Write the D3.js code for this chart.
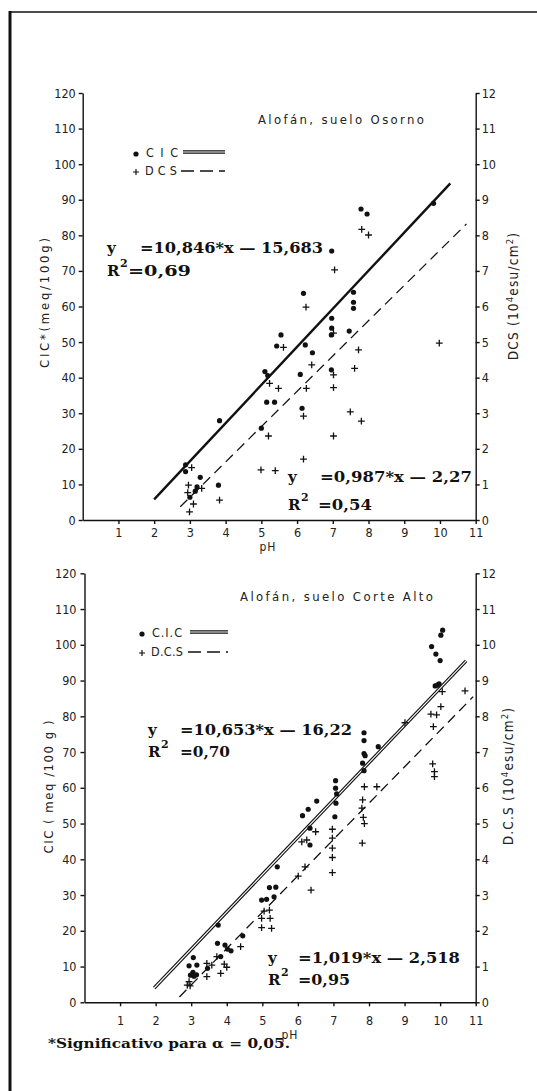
<!DOCTYPE html>
<html>
<head>
<meta charset="utf-8">
<script src="https://cdn.jsdelivr.net/npm/d3@7"></script>
<style>
body{margin:0;background:#fff}
svg{display:block}
</style>
</head>
<body>
<div class="chart"></div>
<script>
// tick labels
const phTicks = [1,2,3,4,5,6,7,8,9,10,11];
const cicTicks = [0,10,20,30,40,50,60,70,80,90,100,110,120];
const dcsTicks = [0,1,2,3,4,5,6,7,8,9,10,11,12];

// Osorno: [pH, CIC meq/100g]
const osornoCic = [[2.88,15.5],[2.88,13.6],[3.0,6.4],[3.15,8.1],[3.2,9.3],[3.29,12.0],[3.8,9.8],[3.83,27.9],
  [5.0,25.8],[5.1,41.7],[5.18,40.6],[5.15,33.1],[5.37,33.1],[5.43,48.9],[5.55,52.0],[6.09,40.9],[6.14,31.4],
  [6.18,63.7],[6.23,49.2],[6.43,47.0],[6.96,52.0],[6.96,42.2],[6.97,56.7],[6.97,53.9],[6.97,75.6],[7.46,53.1],
  [7.58,64.0],[7.58,61.2],[7.58,59.5],[7.79,87.4],[7.96,86.0],[9.82,89.0]];
// Osorno: [pH, DCS 10^4 esu/cm2]
const osornoDcs = [[2.94,0.77],[2.96,0.98],[2.99,0.23],[3.05,1.47],[3.1,0.45],[3.33,0.89],[3.83,0.56],[4.99,1.41],
  [5.2,2.36],[5.23,3.84],[5.39,1.39],[5.48,3.70],[5.62,4.85],[6.18,1.71],[6.18,2.92],[6.25,5.98],[6.26,3.70],
  [6.41,4.36],[7.02,5.25],[7.02,4.08],[7.02,3.72],[7.02,2.36],[7.05,7.03],[7.49,3.04],[7.61,4.26],[7.72,4.78],
  [7.8,2.78],[7.81,8.17],[8.0,8.01],[9.98,4.97]];
const osornoCicFit = [[2.0,5.8],[10.29,94.6]];
const osornoDcsFit = [[2.73,0.37],[10.74,8.32]];

// Corte Alto
const corteCic = [[3.06,12.5],[2.94,10.2],[3.16,10.4],[2.98,7.6],[3.08,7.3],[3.15,7.7],[3.05,8.4],[3.46,9.5],
  [3.76,21.6],[3.74,16.5],[3.83,12.8],[3.95,16.0],[4.02,14.9],[4.12,14.4],[4.45,18.6],[4.98,28.6],[5.12,28.8],
  [5.2,32.1],[5.38,32.2],[5.33,29.5],[5.42,37.9],[6.34,44.0],[6.13,52.2],[6.34,48.7],[6.29,54.0],[6.53,56.3],
  [7.07,55.7],[7.04,51.9],[7.06,62.0],[7.06,59.9],[7.09,58.3],[7.86,75.4],[7.86,73.2],[7.86,69.6],[7.89,69.0],
  [7.82,66.9],[7.86,64.8],[8.26,71.5],[9.76,99.5],[9.88,97.4],[10.0,95.6],[9.86,88.5],[9.97,89.1],[9.92,88.7],
  [10.07,104.1],[10.02,102.7]];
const corteDcs = [[2.94,0.58],[2.97,0.46],[2.89,0.48],[3.44,1.09],[3.44,0.72],[3.58,1.04],[3.72,1.28],[3.83,0.81],
  [3.93,1.07],[4.0,0.98],[4.39,1.56],[4.98,2.35],[5.22,2.35],[4.98,2.09],[5.26,2.07],[5.05,2.55],[5.2,2.58],
  [6.01,3.53],[6.2,3.79],[6.37,3.14],[6.11,4.49],[6.25,4.54],[6.5,4.77],[6.97,4.84],[6.97,4.59],[6.97,4.31],
  [6.97,4.05],[6.97,3.63],[7.84,5.17],[7.87,5.0],[7.81,4.45],[7.8,5.43],[7.87,6.03],[8.22,6.03],[7.82,5.66],
  [9.01,7.82],[9.74,8.06],[9.9,8.04],[10.02,8.27],[10.06,8.69],[10.7,8.71],[9.81,7.71],[9.79,6.67],[9.84,6.45],
  [9.84,6.31]];
const corteCicFit = [[1.96,4.0],[10.73,95.5]];
const corteDcsFit = [[2.67,0.15],[10.93,8.55]];

const W = 537, H = 1091;
const sans = '"DejaVu Sans Condensed","DejaVu Sans",sans-serif';
const serif = '"DejaVu Serif","Liberation Serif",serif';

const svg = d3.select('.chart').append('svg')
    .attr('width', W)
    .attr('height', H);

// frame
svg.append('line').attr('x1', 10).attr('y1', 12).attr('x2', W).attr('y2', 12)
    .attr('stroke', '#111').attr('stroke-width', 1.6);
svg.append('line').attr('x1', 10).attr('y1', 11).attr('x2', 10).attr('y2', H)
    .attr('stroke', '#111').attr('stroke-width', 3);

function panel(p) {
    const g = svg.append('g');
    const x = d3.scaleLinear().domain([0, 11]).range([p.left, p.right]);
    const y = d3.scaleLinear().domain([0, 120]).range([p.bottom, p.top]);
    const y2 = d3.scaleLinear().domain([0, 12]).range([p.bottom, p.top]);

    const styleAxis = sel => {
        sel.attr('font-family', sans).attr('font-size', 12.5);
        sel.selectAll('path,line').attr('stroke', '#111').attr('stroke-width', 1.4);
        sel.selectAll('text').attr('fill', '#222');
    };
    g.append('g')
        .attr('transform', `translate(${p.left},0)`)
        .call(d3.axisLeft(y).tickValues(cicTicks).tickSize(4).tickSizeOuter(0).tickPadding(p.padL))
        .call(styleAxis);
    g.append('g')
        .attr('transform', `translate(${p.right},0)`)
        .call(d3.axisRight(y2).tickValues(dcsTicks).tickSize(4).tickSizeOuter(0).tickPadding(2))
        .call(styleAxis);
    g.append('g')
        .attr('transform', `translate(0,${p.bottom})`)
        .call(d3.axisBottom(x).tickValues(phTicks).tickSize(4).tickSizeOuter(0).tickPadding(p.padX))
        .call(styleAxis);

    // fit lines
    const lineC = d3.line().x(d => x(d[0])).y(d => y(d[1]));
    const lineD = d3.line().x(d => x(d[0])).y(d => y2(d[1]));
    if (p.double) {
        g.append('path').attr('d', lineC(p.cicFit)).attr('stroke', '#111').attr('stroke-width', 3.4).attr('fill', 'none');
        g.append('path').attr('d', lineC(p.cicFit)).attr('stroke', '#fff').attr('stroke-width', 1.1).attr('fill', 'none');
    } else {
        g.append('path').attr('d', lineC(p.cicFit)).attr('stroke', '#111').attr('stroke-width', 2.4).attr('fill', 'none');
    }
    g.append('path').attr('d', lineD(p.dcsFit)).attr('stroke', '#111').attr('stroke-width', 1.3)
        .attr('stroke-dasharray', '10,6').attr('fill', 'none');

    // points
    g.selectAll('circle.cic').data(p.cic).enter().append('circle')
        .attr('class', 'cic')
        .attr('cx', d => x(d[0]))
        .attr('cy', d => y(d[1]))
        .attr('r', 2.6)
        .attr('fill', '#111');
    g.selectAll('path.dcs').data(p.dcs).enter().append('path')
        .attr('class', 'dcs')
        .attr('d', d => `M${x(d[0]) - 3.4},${y2(d[1])}h6.8M${x(d[0])},${y2(d[1]) - 3.4}v6.8`)
        .attr('stroke', '#111')
        .attr('stroke-width', 1.3);

    // title
    g.append('text').text(p.title)
        .attr('x', p.titleX).attr('y', p.titleY)
        .attr('font-family', sans).attr('font-size', 13).attr('fill', '#222')
        .attr('textLength', p.titleLen).attr('lengthAdjust', 'spacing');

    // legend
    const L = p.legend;
    g.append('circle').attr('cx', L.x).attr('cy', L.y1 - 3).attr('r', 2.6).attr('fill', '#111');
    g.append('text').text(L.cicName).attr('x', L.x + 10).attr('y', L.y1)
        .attr('font-family', sans).attr('font-size', 12.5).attr('fill', '#222')
        .attr('textLength', L.nameLen).attr('lengthAdjust', 'spacing');
    g.append('line').attr('x1', L.lx1).attr('x2', L.lx2).attr('y1', L.y1 - 5).attr('y2', L.y1 - 5)
        .attr('stroke', '#111').attr('stroke-width', 3.6);
    g.append('line').attr('x1', L.lx1).attr('x2', L.lx2).attr('y1', L.y1 - 5).attr('y2', L.y1 - 5)
        .attr('stroke', '#fff').attr('stroke-width', 1.2);
    g.append('path').attr('d', `M${L.x - 3},${L.y2 - 3}h6M${L.x},${L.y2 - 6}v6`)
        .attr('stroke', '#111').attr('stroke-width', 1.2);
    g.append('text').text(L.dcsName).attr('x', L.x + 9).attr('y', L.y2)
        .attr('font-family', sans).attr('font-size', 12.5).attr('fill', '#222')
        .attr('textLength', L.nameLen2).attr('lengthAdjust', 'spacing');
    g.append('line').attr('x1', L.dx1).attr('x2', L.lx2).attr('y1', L.y2 - 4).attr('y2', L.y2 - 4)
        .attr('stroke', '#111').attr('stroke-width', 1.3).attr('stroke-dasharray', '13,6');

    // equations
    p.eqs.forEach(e => {
        g.append('text').text('y').attr('x', e.x).attr('y', e.y1)
            .attr('font-family', serif).attr('font-weight', 'bold').attr('font-size', 15).attr('fill', '#111');
        g.append('text').text(e.eq).attr('x', e.x2).attr('y', e.y1)
            .attr('font-family', serif).attr('font-weight', 'bold').attr('font-size', 15).attr('fill', '#111')
            .attr('textLength', e.eqLen).attr('lengthAdjust', 'spacingAndGlyphs');
        g.append('text').text('R').attr('x', e.x).attr('y', e.y2)
            .attr('font-family', serif).attr('font-weight', 'bold').attr('font-size', 15).attr('fill', '#111');
        g.append('text').text('2').attr('x', e.x + 13).attr('y', e.y2 - 9)
            .attr('font-family', serif).attr('font-weight', 'bold').attr('font-size', 11).attr('fill', '#111');
        g.append('text').text(e.r2).attr('x', e.x2r).attr('y', e.y2)
            .attr('font-family', serif).attr('font-weight', 'bold').attr('font-size', 15).attr('fill', '#111')
            .attr('textLength', e.r2Len).attr('lengthAdjust', 'spacingAndGlyphs');
    });

    // axis titles
    g.append('text').text('pH').attr('x', p.phX).attr('y', p.phY)
        .attr('text-anchor', 'middle').attr('font-family', sans).attr('font-size', 12).attr('fill', '#222')
        .attr('letter-spacing', 1);
    g.append('text')
        .attr('transform', `translate(${p.yl.x},${p.yl.y}) rotate(-90)`)
        .attr('text-anchor', 'middle').attr('font-family', sans).attr('font-size', 13).attr('fill', '#222')
        .attr('textLength', p.yl.len).attr('lengthAdjust', 'spacing')
        .text(p.yl.text);
    const yr = g.append('text')
        .attr('transform', `translate(${p.yr.x},${p.yr.y}) rotate(-90)`)
        .attr('text-anchor', 'middle').attr('font-family', sans).attr('font-size', 13.5).attr('fill', '#222')
        .attr('letter-spacing', 1.2);
    yr.append('tspan').text(p.yr.text + '(10');
    yr.append('tspan').text('4').attr('font-size', 9.5).attr('dy', -5);
    yr.append('tspan').text('esu/cm').attr('dy', 5);
    yr.append('tspan').text('2').attr('font-size', 9.5).attr('dy', -5);
    yr.append('tspan').text(')').attr('dy', 5);
}

panel({
    left: 82.7, right: 475.7, top: 93, bottom: 520, padL: 3, padX: 4,
    cic: osornoCic, dcs: osornoDcs, cicFit: osornoCicFit, dcsFit: osornoDcsFit, double: false,
    title: 'Alofán, suelo Osorno', titleX: 258, titleY: 123.5, titleLen: 166,
    legend: {x: 136, y1: 157, y2: 175, cicName: 'CIC', nameLen: 32, dcsName: 'DCS', nameLen2: 32,
             lx1: 183, lx2: 225, dx1: 181},
    eqs: [
        {x: 107, x2: 140, y1: 253, eq: '=10,846*x — 15,683', eqLen: 183, y2: 276, x2r: 128, r2: '=0,69', r2Len: 63},
        {x: 288, x2: 320, y1: 482, eq: '=0,987*x — 2,27', eqLen: 152, y2: 510, x2r: 318, r2: '=0,54', r2Len: 54}
    ],
    phX: 268, phY: 551,
    yl: {x: 49, y: 303, text: 'CIC*(meq/100g)', len: 130},
    yr: {x: 518, y: 296, text: 'DCS '}
});

panel({
    left: 84.5, right: 475.7, top: 573.3, bottom: 1002.3, padL: 4, padX: 10,
    cic: corteCic, dcs: corteDcs, cicFit: corteCicFit, dcsFit: corteDcsFit, double: true,
    title: 'Alofán, suelo Corte Alto', titleX: 240, titleY: 601, titleLen: 193,
    legend: {x: 142, y1: 637, y2: 656, cicName: 'C.I.C', nameLen: 30, dcsName: 'D.C.S', nameLen2: 32,
             lx1: 190, lx2: 228, dx1: 188},
    eqs: [
        {x: 148, x2: 180, y1: 735, eq: '=10,653*x — 16,22', eqLen: 172, y2: 757, x2r: 180, r2: '=0,70', r2Len: 50},
        {x: 268, x2: 298, y1: 963, eq: '=1,019*x — 2,518', eqLen: 162, y2: 985, x2r: 298, r2: '=0,95', r2Len: 52}
    ],
    phX: 290, phY: 1039,
    yl: {x: 53, y: 787, text: 'CIC ( meq /100 g )', len: 133},
    yr: {x: 513, y: 776, text: 'D.C.S '}
});

// footnote
const fn = svg.append('text')
    .attr('x', 48).attr('y', 1048)
    .attr('font-family', serif).attr('font-weight', 'bold').attr('font-size', 13.5).attr('fill', '#111')
    .attr('textLength', 242).attr('lengthAdjust', 'spacingAndGlyphs');
fn.text('*Significativo para α = 0,05.');
</script>
</body>
</html>
